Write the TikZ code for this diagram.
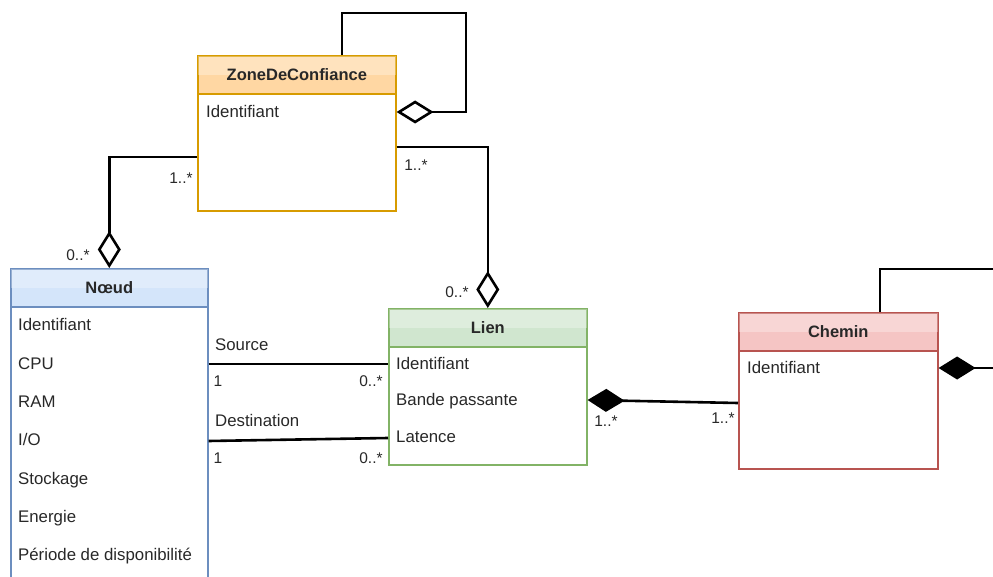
\documentclass[tikz,border=0pt]{standalone}
\usepackage{fontspec}
\setmainfont{Liberation Sans}
\usepackage{tikz}
\usetikzlibrary{arrows.meta, calc, positioning}
\definecolor{textColor}{RGB}{40,40,40}
\definecolor{zoneLine}{HTML}{D79B00}
\definecolor{zoneFill}{HTML}{FFD7A3}
\definecolor{noeudLine}{HTML}{6C8EBF}
\definecolor{noeudFill}{HTML}{D4E5FA}
\definecolor{lienLine}{HTML}{82B366}
\definecolor{lienFill}{HTML}{D0E6CF}
\definecolor{cheminLine}{HTML}{B85450}
\definecolor{cheminFill}{HTML}{F5C5C4}
\tikzstyle{umlText} = [inner sep=0pt, text=textColor, text height=13pt, text depth=2pt]
\tikzstyle{classBody} = [draw, line width=1.6pt, fill=white, anchor=north west, inner sep=0pt]
\tikzstyle{classHead} = [draw, line width=1.6pt, anchor=north west, inner sep=0pt, minimum height=38pt]
\tikzstyle{classTitle} = [umlText, font=\fontsize{16.5}{20}\selectfont\bfseries]
\tikzstyle{attributeText} = [umlText, anchor=west]
\tikzstyle{multiplicity} = [umlText, font=\fontsize{15.5}{18}\selectfont]
\tikzstyle{association} = [color=black, line width=2.6pt, line join=miter]
\tikzstyle{aggregation} = [association, -{Diamond[open, length=37pt, width=23pt]}]
\tikzstyle{composition} = [association, -{Diamond[length=37pt, width=23pt]}]
\newcommand{\classBox}[7]{
  \node [classBody, draw=#2Line, minimum width=#5pt, minimum height=#6pt] (#1) at (#3, #4) {};
  \node [classHead, draw=#2Line, fill=#2Fill, minimum width=#5pt] (#1Head) at (#1.north west) {};
  \fill [white, opacity=.3] ([shift={(1pt,-1pt)}]#1Head.north west) rectangle ([xshift=-1pt]#1Head.east);
  \node [classTitle] (#1Title) at (#1Head.center) {#7};
}
\newcommand{\attribute}[4]{\node [attributeText] (#1) at (#2, #3) {#4};}

\begin{document}
\begin{tikzpicture}[x=1pt, y=-1pt, font=\fontsize{16.8}{20}\selectfont]
  \clip (0,0) rectangle (993,577);
  % classes
  \classBox{zone}{zone}{197}{55}{198}{155}{ZoneDeConfiance}
  \classBox{noeud}{noeud}{10}{268}{197}{330}{Nœud}
  \classBox{lien}{lien}{388}{308}{198}{156}{Lien}
  \classBox{chemin}{chemin}{738}{312}{199}{156}{Chemin}

  % attributes
  \attribute{zoneIdent}{206}{112}{Identifiant}
  \foreach \attr [count=\i] in {Identifiant, CPU, RAM, I/O, Stockage, Energie, Période de disponibilité} {
    \node [attributeText] (noeudAttr\i) at (18, 287 + 38.3 * \i) {\attr};
  }
  \attribute{lienIdent}{396}{364}{Identifiant}
  \attribute{lienBande}{396}{400}{Bande passante}
  \attribute{lienLatence}{396}{437}{Latence}
  \attribute{cheminIdent}{747}{368}{Identifiant}

  % connectors
  \coordinate (zoneLoop) at (466, 13);
  \coordinate (cheminLoop) at (1010, 269);
  \draw [aggregation] ([xshift=145pt]zone.north west) |- (zoneLoop) |- (zone.east |- zoneIdent);
  \draw [aggregation] ([yshift=-102pt]zone.north west) -| (noeud.north);
  \draw [aggregation] ([yshift=-92pt]zone.north east) -| (lien.north);
  \draw [association] (noeud.east |- lienIdent) -- (lien.west |- lienIdent);
  \draw [association] ($(noeud.east |- lienLatence) + (0, 4)$) -- ($(lien.west |- lienLatence) + (0, 1)$);
  \draw [composition] ($(chemin.west |- lienBande) + (0, 3)$) -- (lien.east |- lienBande);
  \draw [composition] ([xshift=142pt]chemin.north west) |- (cheminLoop) |- (chemin.east |- cheminIdent);

  % labels
  \node [multiplicity] (zoneNoeudOne) at (181, 178) {1..*};
  \node [multiplicity] (zoneNoeudMany) at (78, 255) {0..*};
  \node [multiplicity] (zoneLienOne) at (416, 165) {1..*};
  \node [multiplicity] (zoneLienMany) at (457, 292) {0..*};
  \node [attributeText] (sourceRole) at (215, 345) {Source};
  \node [multiplicity] (sourceOne) at (218, 381) {1};
  \node [multiplicity] (sourceMany) at (371, 381) {0..*};
  \node [attributeText] (destRole) at (215, 421) {Destination};
  \node [multiplicity] (destOne) at (218, 458) {1};
  \node [multiplicity] (destMany) at (371, 458) {0..*};
  \node [multiplicity] (lienCheminOne) at (606, 421) {1..*};
  \node [multiplicity] (lienCheminMany) at (723, 418) {1..*};
\end{tikzpicture}
\end{document}
